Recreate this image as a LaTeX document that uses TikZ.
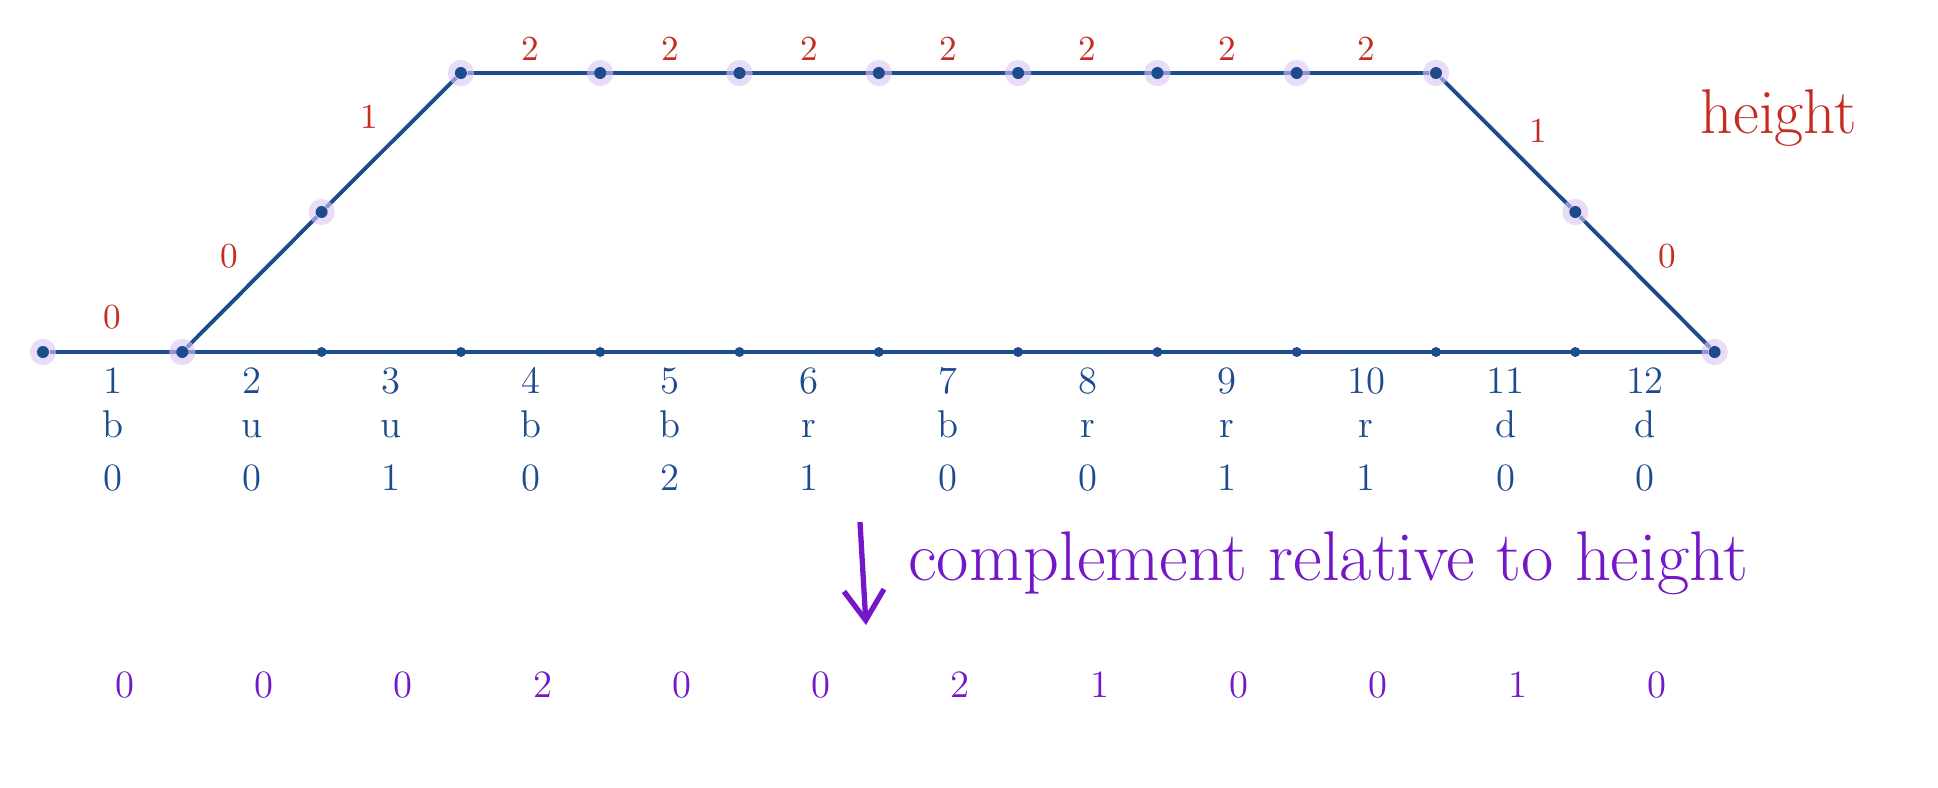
\documentclass[tikz,border=0pt]{standalone}
\usepackage{xcolor}
\usepackage{tikz}
\usetikzlibrary{arrows.meta,backgrounds}

\definecolor{inkblue}{HTML}{1E4B8E}
\definecolor{inkred}{HTML}{C62B22}
\definecolor{inkpurple}{HTML}{7417C9}
\definecolor{halo}{HTML}{D8C4F4}

\begin{document}
\begin{tikzpicture}[x=0.01cm, y=-0.01cm,
    trail/.style={inkblue, line width=1.1pt},
    pathdot/.style={circle, inner sep=0pt, minimum size=1.2mm, fill=inkblue,
        preaction={draw=halo, line width=1.4mm, draw opacity=0.6}},
    tick/.style={circle, inner sep=0pt, minimum size=1mm, fill=inkblue},
    hgt/.style={inkred, font=\fontsize{10}{12}\selectfont},
    lbl/.style={inkblue, anchor=base, font=\fontsize{11}{13}\selectfont},
    cmp/.style={inkpurple, anchor=base, font=\fontsize{11}{13}\selectfont}]
    \useasboundingbox (0,0) rectangle (1938,787);

    % points of the walk
    \foreach \i in {2,...,11}
        \node[tick] (b\i) at ({43+139.3*\i},352) {};
    \foreach \i in {0,1,12}
        \node[pathdot] (b\i) at ({43+139.3*\i},352) {};
    \foreach \i in {3,...,10}
        \node[pathdot] (t\i) at ({43+139.3*\i},73) {};
    \node[pathdot] (s2) at ({43+139.3*2},212) {};
    \node[pathdot] (s11) at ({43+139.3*11},212) {};

    \begin{scope}[on background layer]
    \draw[trail] (b0) -- (b12);
    \path (b0) -- (b1) node[midway, above=3pt, hgt] (h1) {0};
    \draw[trail] (b1) -- (s2) node[midway, above left, hgt] (h2) {0}
        -- (t3) node[midway, above left, hgt] (h3) {1}
        -- (t10)
        -- (s11) node[midway, above right, xshift=3pt, yshift=-4pt, hgt] (h11) {1}
        -- (b12) node[midway, above right, hgt] (h12) {0};
    \foreach \i [evaluate=\i as \j using int(\i+1)] in {3,...,9}
        \path (t\i) -- (t\j) node[midway, above, hgt] (h\j) {2};
    \end{scope}

    \node[inkred, anchor=base, font=\fontsize{18}{22}\selectfont] (hgtname) at (1779,133) {height};

    % step number, direction, value and complement
    \foreach \n/\w/\v/\c [count=\k] in {1/b/0/0, 2/u/0/0, 3/u/1/0, 4/b/0/2,
            5/b/2/0, 6/r/1/0, 7/b/0/2, 8/r/0/1, 9/r/1/0, 10/r/1/0, 11/d/0/1, 12/d/0/0} {
        \node[lbl] (num\k) at ({43+139.3*(\k-0.5)},393) {\n};
        \node[lbl] (dir\k) at ({43+139.3*(\k-0.5)},437) {\w};
        \node[lbl] (val\k) at ({43+139.3*(\k-0.5)},490) {\v};
        \node[cmp] (cmp\k) at ({55+139.3*(\k-0.5)},697) {\c};
    }

    \coordinate (arrtop) at (860,522);
    \coordinate (arrtip) at (866,625);
    \draw[inkpurple, line width=1.5pt, -{Straight Barb[length=3mm, width=4mm]}] (arrtop) -- (arrtip);
    \node[inkpurple, anchor=base west, font=\fontsize{20}{24}\selectfont] (note) at (896,580)
        {complement relative to height};
\end{tikzpicture}
\end{document}
